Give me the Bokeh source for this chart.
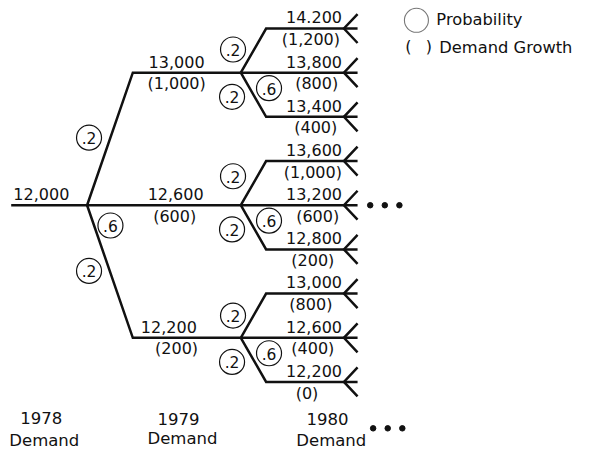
from bokeh.plotting import figure
from bokeh.models import Range1d, ColumnDataSource
from bokeh.embed import file_html
from bokeh.resources import INLINE
from bokeh.core.properties import value

# ---------------- data ----------------
demand_1978 = "12,000"
demand_1979 = ["13,000", "12,600", "12,200"]
growth_1979 = ["(1,000)", "(600)", "(200)"]
demand_1980 = ["14.200", "13,800", "13,400",
               "13,600", "13,200", "12,800",
               "13,000", "12,600", "12,200"]
growth_1980 = ["(1,200)", "(800)", "(400)",
               "(1,000)", "(600)", "(200)",
               "(800)", "(400)", "(0)"]
probabilities = [".2", ".6", ".2"]
year_labels = ["1978", "1979", "1980"]
legend_labels = ["Probability", "Demand Growth"]

# ---------------- layout ----------------
W, H = 575, 451
FONT = value("DejaVu Sans")
INK = "#111111"

root_x0, root_x1, root_y = 11, 89, 212
step = 45.75
l1_bend_x, l2_x, l2_bend_x = 136, 247, 273
leaf_end, fork_x, fork_dy = 367, 353, 15

l1_y = [root_y + (i - 1) * 3 * step for i in range(3)]
leaf_y = [l1_y[i] + (j - 1) * step for i in range(3) for j in range(3)]

p = figure(width=W, height=H, output_backend="svg", toolbar_location=None,
           x_range=Range1d(0, 591), y_range=Range1d(467, 0),
           x_axis_location=None, y_axis_location=None, min_border=0,
           background_fill_color="white", border_fill_color="white")
p.grid.visible = False
p.outline_line_color = None

# ---------------- tree lines ----------------
xs, ys = [], []
xs.append([root_x0, root_x1]); ys.append([root_y, root_y])
for i, y1 in enumerate(l1_y):
    if i == 1:
        xs.append([root_x1, l2_x]); ys.append([root_y, y1])
    else:
        xs.append([root_x1, l1_bend_x, l2_x]); ys.append([root_y, y1, y1])
    for j in range(3):
        yl = leaf_y[i * 3 + j]
        if j == 1:
            xs.append([l2_x, leaf_end]); ys.append([y1, yl])
        else:
            xs.append([l2_x, l2_bend_x, leaf_end]); ys.append([y1, yl, yl])
        xs.append([leaf_end, fork_x, leaf_end]); ys.append([yl - fork_dy, yl, yl + fork_dy])
p.multi_line(xs, ys, line_color=INK, line_width=2.5, line_join="miter", line_cap="butt")

def txt(x, y, t, size="16px", align="center", color=INK):
    # y is the vertical centre of the digits / capitals
    src = ColumnDataSource(dict(x=list(x), y=list(y), t=list(t)))
    p.text("x", "y", text="t", source=src, text_font=FONT, text_font_size=value(size),
           text_align=align, text_baseline="alphabetic", text_color=color)

# ---------------- value labels ----------------
txt([42], [root_y - 12], [demand_1978])
txt([181, 180, 173], [y - 11.5 for y in l1_y], demand_1979)
txt([181, 179, 181], [y + 11.5 for y in l1_y], growth_1979)
txt([351] * 9, [y - 11.5 for y in leaf_y], demand_1980, align="right")
txt([319, 325, 324, 321, 326, 321, 319, 321, 315], [y + 11.5 for y in leaf_y], growth_1980)

# ---------------- probability circles ----------------
cx = [root_x1 + 2, root_x1 + 24, root_x1 + 2]
cy = [root_y - 70, root_y + 21, root_y + 68]
ct = list(probabilities)
upper_off = [-24, -30, -23]
for i, y1 in enumerate(l1_y):
    cx += [l2_x - 8, l2_x + 29, l2_x - 9]
    cy += [y1 + upper_off[i], y1 + 16, y1 + 25]
    ct += [probabilities[0], probabilities[1], probabilities[2]]
p.scatter(cx, cy, size=25, marker="circle", fill_color=None, line_color=INK, line_width=1.2)
txt(cx, [c + 0.5 for c in cy], ct, size="15.5px")

# ---------------- continuation dots ----------------
p.scatter([380, 395, 410, 383, 398, 413], [212, 212, 212, 443, 443, 443],
          size=5.5, marker="circle", fill_color=INK, line_color=INK)

# ---------------- year labels ----------------
txt([42, 183, 336], [432, 433.5, 433.5], year_labels, size="16.5px")
txt([45, 187, 340], [456, 454, 456], ["Demand"] * 3, size="16.5px")

# ---------------- legend ----------------
p.scatter([427.5], [20.5], size=24, marker="circle", fill_color=None, line_color="#777777", line_width=1.1)
txt([448], [20], [legend_labels[0]], size="16.3px", align="left")
txt([416, 437], [48, 48], ["(", ")"], size="16px", align="left")
txt([451], [49], [legend_labels[1]], size="16.3px", align="left")

open("out.html", "w").write(file_html(p, INLINE))
